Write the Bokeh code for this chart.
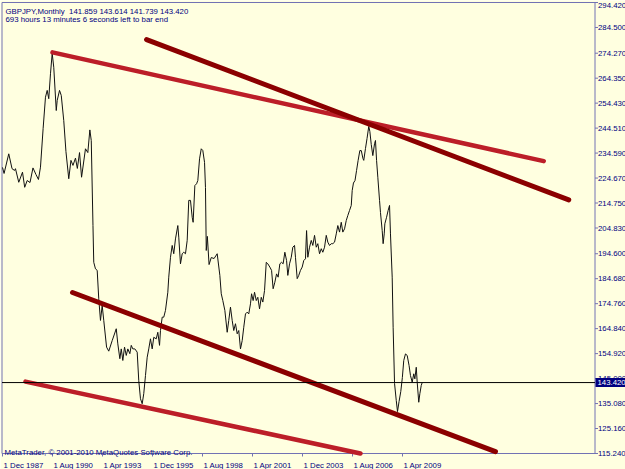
from bokeh.plotting import figure
from bokeh.models import Range1d, Label, ColumnDataSource
from bokeh.core.properties import value
from bokeh.embed import file_html
from bokeh.resources import INLINE

# ---------------- data ----------------
# months counted from 1 Dec 1987 (bar positions), monthly close prices
months = [
    0.0, 1.0, 4.0, 6.1, 7.7, 8.3, 10.4, 12.8, 14.2, 15.8,
    17.6, 19.5, 21.4, 23.0, 24.3, 26.0, 27.5, 28.6, 29.6, 30.7,
    31.8, 32.8, 34.4, 35.0, 36.5, 37.6, 39.2, 40.6, 42.4, 43.8,
    45.1, 46.7, 47.9, 49.3, 50.6, 53.1, 54.6, 55.9, 56.8, 57.9,
    58.4, 59.5, 60.6, 61.6, 62.7, 63.8, 64.8, 66.6, 68.0, 70.2,
    72.8, 73.8, 75.1, 76.0, 77.0, 78.1, 79.2, 80.2, 81.5, 82.4,
    83.4, 84.7, 86.2, 87.2, 88.3, 89.4, 90.4, 91.5, 92.6, 93.6,
    94.7, 95.8, 96.8, 98.4, 99.4, 100.5, 101.1, 102.2, 103.2, 104.3,
    105.8, 106.4, 107.5, 108.6, 109.6, 110.7, 112.2, 112.8, 113.9, 115.0,
    116.0, 117.1, 118.2, 119.2, 120.3, 121.4, 122.0, 123.1, 124.2, 125.0,
    126.1, 127.2, 128.2, 129.3, 129.9, 130.4, 131.1, 132.2, 133.6, 135.4,
    137.4, 139.1, 140.0, 141.0, 142.3, 143.8, 144.8, 145.9, 147.0, 148.0,
    149.1, 150.2, 151.2, 152.3, 153.4, 154.4, 155.5, 156.6, 157.6, 158.7,
    159.4, 160.4, 161.3, 162.4, 163.4, 164.5, 165.6, 166.6, 167.7, 168.8,
    169.8, 171.1, 172.2, 173.2, 174.3, 175.4, 176.4, 177.5, 178.6, 179.6,
    180.7, 181.8, 182.6, 183.7, 184.8, 185.8, 186.9, 187.5, 188.6, 189.6,
    190.7, 191.8, 192.8, 193.9, 194.6, 195.4, 196.5, 197.6, 198.6, 199.7,
    200.8, 201.8, 202.9, 204.0, 205.0, 206.1, 207.2, 208.2, 209.3, 210.4,
    211.4, 212.5, 213.6, 214.6, 215.7, 216.8, 217.8, 218.9, 220.0, 221.0,
    222.1, 223.2, 223.8, 224.6, 225.6, 226.6, 227.6, 228.7, 229.6, 230.7,
    231.2, 232.3, 233.3, 234.4, 235.1, 236.0, 237.0, 238.1, 238.7, 239.4,
    240.2, 241.3, 241.9, 243.0, 243.6, 244.3, 244.7, 245.8, 246.8, 247.7,
    248.3, 249.4, 250.0, 250.9, 252.0, 252.8, 253.8, 254.9, 255.9, 256.8,
    257.9, 259.0, 260.2, 261.1, 262.2, 263.2, 263.9, 264.8, 265.4, 266.4,
    267.1, 268.0, 268.6,
]
close = [
    228.9, 226.5, 234.3, 228.4, 227.7, 228.4, 223.0, 227.0, 221.0, 223.7,
    222.9, 228.7, 226.1, 224.1, 229.0, 244.4, 256.8, 259.5, 256.2, 266.1,
    274.2, 268.7, 251.5, 255.5, 259.5, 257.5, 247.5, 235.2, 224.4, 231.7,
    229.7, 232.6, 228.5, 234.8, 225.0, 236.3, 234.8, 243.8, 239.6, 205.8,
    191.2, 188.6, 188.0, 176.7, 168.1, 174.0, 168.1, 157.5, 155.9, 160.1,
    164.8, 158.8, 152.9, 156.8, 152.2, 157.5, 154.2, 156.8, 154.9, 158.2,
    156.8, 156.8, 155.5, 144.2, 137.0, 135.0, 139.0, 146.2, 153.5, 156.8,
    160.8, 156.8, 161.4, 160.8, 163.4, 158.2, 164.1, 169.4, 169.4, 172.1,
    179.3, 185.3, 193.2, 197.9, 194.6, 200.5, 205.8, 201.2, 190.6, 194.6,
    195.2, 194.6, 199.9, 215.8, 215.8, 209.1, 207.1, 221.7, 222.4, 223.7,
    232.3, 236.3, 235.6, 230.9, 220.9, 195.9, 201.5, 190.3, 193.1, 192.7,
    194.6, 186.0, 178.7, 176.0, 172.1, 163.4, 168.1, 173.4, 168.1, 164.1,
    166.8, 162.8, 164.1, 156.8, 160.1, 165.4, 170.7, 171.4, 170.7, 174.7,
    178.7, 176.0, 179.3, 176.0, 177.3, 172.7, 177.3, 175.4, 180.0, 191.2,
    190.6, 189.3, 188.0, 180.7, 183.3, 186.6, 185.3, 190.6, 191.2, 190.6,
    195.2, 191.9, 186.0, 190.6, 193.2, 197.2, 197.9, 193.2, 184.7, 186.0,
    188.0, 189.3, 191.9, 192.6, 203.8, 193.2, 197.2, 199.9, 197.9, 201.9,
    197.2, 198.6, 194.6, 196.6, 195.2, 197.2, 201.9, 199.2, 197.9, 198.6,
    198.6, 199.2, 202.5, 205.8, 203.2, 207.1, 203.2, 204.5, 207.8, 209.8,
    211.8, 213.8, 219.7, 222.7, 223.7, 227.7, 231.7, 235.6, 235.6, 232.4,
    231.7, 236.4, 240.4, 245.2, 243.2, 238.0, 233.6, 238.3, 239.6, 231.7,
    225.0, 215.8, 211.0, 203.8, 198.6, 202.5, 206.5, 209.1, 211.8, 213.8,
    202.5, 185.3, 165.4, 143.1, 136.3, 131.9, 135.9, 139.9, 145.4, 152.2,
    154.8, 154.2, 150.2, 146.2, 143.6, 146.9, 144.9, 149.5, 143.6, 135.6,
    139.0, 142.3, 143.42,
]

x_tick_months = [0, 32, 64, 96, 128, 160, 192, 224, 256]
x_tick_labels = ["1 Dec 1987", "1 Aug 1990", "1 Apr 1993", "1 Dec 1995", "1 Aug 1998",
                 "1 Apr 2001", "1 Dec 2003", "1 Aug 2006", "1 Apr 2009"]
y_tick_values = [294.42, 284.50, 274.27, 264.35, 254.43, 244.51, 234.59, 224.67, 214.75,
                 204.83, 194.60, 184.68, 174.76, 164.84, 154.92, 145.00, 135.08, 125.16, 115.24]

# trend lines: start / end (month, price)
trend_start_month = [32.0, 92.2, 44.8, 14.7]
trend_start_price = [274.6, 279.7, 179.2, 143.8]
trend_end_month = [346.4, 362.4, 315.5, 229.1]
trend_end_price = [231.4, 216.0, 116.0, 115.24]

symbol = "GBPJPY,Monthly"
ohlc = [141.859, 143.614, 141.739, 143.420]
timer_text = "693 hours 13 minutes 6 seconds left to bar end"
copyright_text = "MetaTrader, \u00a9 2001-2010 MetaQuotes Software Corp."

# ---------------- style / layout ----------------
BG = "#FFFFE0"
NAVY = "#000080"
FRAME = "#7272B4"
LIGHT_RED = "#BC1E28"
DARK_RED = "#8B0000"
trend_colors = [LIGHT_RED, DARK_RED, DARK_RED, LIGHT_RED]
trend_widths = [4.5, 5, 5, 4.5]
FONT = "Liberation Sans"
FS = "7.8px"

W, H = 625, 469
AREA_L, AREA_R, AREA_T, AREA_B = 1.5, 594.5, 2.0, 453.0   # chart area in canvas pixels
MONTH0_PX = 2.0          # pixel of the first bar
PX_PER_MONTH = 1.5625
Y_MIN, Y_MAX = min(y_tick_values), max(y_tick_values)
UNIT_PER_PX = (Y_MAX - Y_MIN) / (AREA_B - AREA_T)


def xd(px):
    return (px - MONTH0_PX) / PX_PER_MONTH


def yd(py):
    return Y_MIN + (AREA_B - py) * UNIT_PER_PX


p = figure(width=W, height=H,
           x_range=Range1d(xd(0), xd(W)), y_range=Range1d(yd(H), yd(0)),
           output_backend="svg", toolbar_location=None,
           x_axis_location=None, y_axis_location=None,
           min_border_left=0, min_border_right=0, min_border_top=0, min_border_bottom=0,
           background_fill_color=BG, border_fill_color=BG, outline_line_color=None)
p.xgrid.visible = False
p.ygrid.visible = False

# chart frame: left, top, right axis line, bottom axis line
fx0 = [xd(AREA_L), xd(AREA_L), xd(AREA_R), xd(AREA_L)]
fy0 = [yd(AREA_B), yd(AREA_T), yd(AREA_T), yd(AREA_B)]
fx1 = [xd(AREA_L), xd(AREA_R), xd(AREA_R), xd(AREA_R)]
fy1 = [yd(AREA_T), yd(AREA_T), yd(AREA_B), yd(AREA_B)]
p.segment(x0=fx0, y0=fy0, x1=fx1, y1=fy1, line_color=FRAME, line_width=1)

# y axis ticks and labels (right side); the top label hangs below its tick
n_y = len(y_tick_values)
p.segment(x0=[xd(AREA_R)] * n_y, y0=y_tick_values,
          x1=[xd(AREA_R + 3)] * n_y, y1=y_tick_values,
          line_color=FRAME, line_width=1)
p.text(x=[xd(AREA_R + 3)], y=y_tick_values[:1],
       text=[f"{v:.3f}" for v in y_tick_values[:1]],
       text_font=value(FONT), text_font_size=value(FS), text_color=NAVY,
       text_align="left", text_baseline="top")
p.text(x=[xd(AREA_R + 3)] * (n_y - 1), y=y_tick_values[1:],
       text=[f"{v:.3f}" for v in y_tick_values[1:]],
       text_font=value(FONT), text_font_size=value(FS), text_color=NAVY,
       text_align="left", text_baseline="middle")

# x axis ticks and left-aligned labels
p.segment(x0=x_tick_months, y0=[yd(AREA_B)] * len(x_tick_months),
          x1=x_tick_months, y1=[yd(AREA_B + 3)] * len(x_tick_months),
          line_color=FRAME, line_width=1)
p.text(x=x_tick_months, y=[yd(464.5)] * len(x_tick_months), text=x_tick_labels, x_offset=1,
       text_font=value(FONT), text_font_size=value(FS), text_color=NAVY,
       text_align="left", text_baseline="alphabetic")

# price line
src = ColumnDataSource(dict(m=months, c=close))
p.line(x="m", y="c", source=src, line_color="#111111", line_width=1)

# trend lines
tsrc = ColumnDataSource(dict(x0=trend_start_month, y0=trend_start_price,
                             x1=trend_end_month, y1=trend_end_price,
                             col=trend_colors, w=trend_widths))
p.segment(x0="x0", y0="y0", x1="x1", y1="y1", source=tsrc, line_color="col",
          line_width="w", line_cap="round")

# current price line and marker
p.segment(x0=[xd(AREA_L)], y0=[close[-1]], x1=[xd(AREA_R)], y1=[close[-1]],
          line_color="black", line_width=1)
p.add_layout(Label(x=xd(AREA_R + 0.5), y=close[-1], x_units="data", y_units="data",
                   text=f"{close[-1]:.3f}", text_font=FONT, text_font_size=FS,
                   text_color="white", text_align="left", text_baseline="middle",
                   background_fill_color=NAVY, padding=(2, 2, 2, 2), level="overlay"))

# header and footer texts (screen units: from the canvas bottom-left)
line1 = symbol + "\u00a0\u00a0" + " ".join(f"{v:.3f}" for v in ohlc)
p.add_layout(Label(x=5, y=H - 10.7, x_units="screen", y_units="screen", text=line1,
                   text_font=FONT, text_font_size=FS, text_color=NAVY,
                   text_align="left", text_baseline="alphabetic"))
p.add_layout(Label(x=5, y=H - 18.7, x_units="screen", y_units="screen", text=timer_text,
                   text_font=FONT, text_font_size=FS, text_color=NAVY,
                   text_align="left", text_baseline="alphabetic"))
p.add_layout(Label(x=4, y=H - 451.5, x_units="screen", y_units="screen", text=copyright_text,
                   text_font=FONT, text_font_size=FS, text_color=NAVY,
                   text_align="left", text_baseline="alphabetic"))

open("out.html", "w").write(file_html(p, INLINE))
